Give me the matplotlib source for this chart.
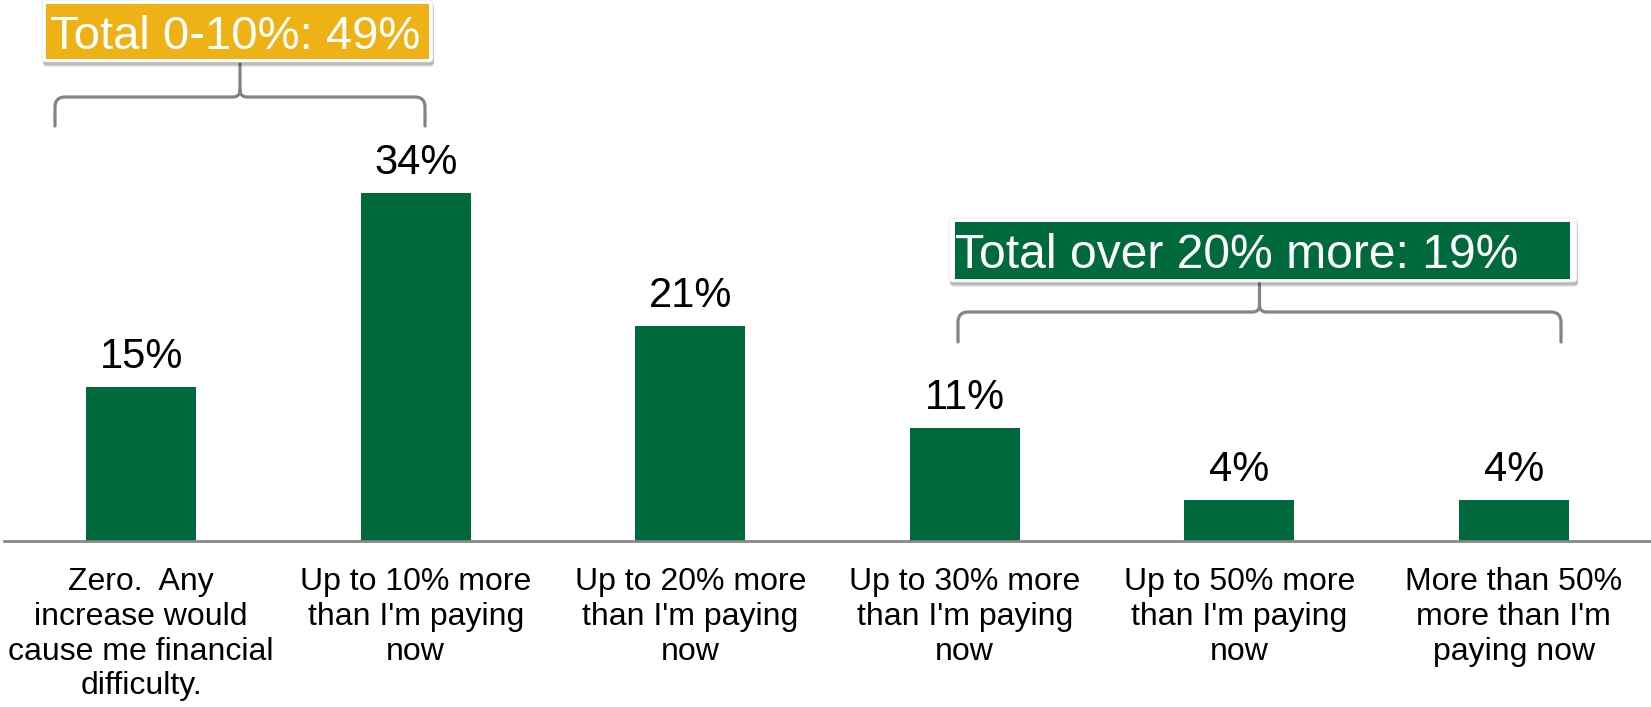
import matplotlib
matplotlib.use("Agg")
import matplotlib.pyplot as plt
from matplotlib.patches import Rectangle, FancyBboxPatch, PathPatch
from matplotlib.path import Path

# ---- data ----
categories = [
    "Zero.  Any\nincrease would\ncause me financial\ndifficulty.",
    "Up to 10% more\nthan I'm paying\nnow",
    "Up to 20% more\nthan I'm paying\nnow",
    "Up to 30% more\nthan I'm paying\nnow",
    "Up to 50% more\nthan I'm paying\nnow",
    "More than 50%\nmore than I'm\npaying now",
]
values = [15, 34, 21, 11, 4, 4]
value_labels = ["15%", "34%", "21%", "11%", "4%", "4%"]
group_labels = ["Total 0-10%: 49%", "Total over 20% more: 19%"]

# ---- style ----
GREEN = "#006A3D"
GOLD = "#EFB216"
BRACE = "#7E858C"
AXIS = "#878787"

W, H = 1651, 707
plt.rcParams["font.family"] = ["Liberation Sans", "DejaVu Sans"]

fig = plt.figure(figsize=(W / 100, H / 100), dpi=100)

# main bar axes: baseline 541 px from the top, 10.24 px per percent
base_px = 541
px_per_pct = 10.24
ax = fig.add_axes([4 / W, 1 - base_px / H, 1 - 4 / W, base_px / H])
x = list(range(len(values)))
ax.bar(x, values, width=0.4, color=GREEN, zorder=2)
ax.set_xlim(-0.5, len(values) - 0.5)
ax.set_ylim(0, base_px / px_per_pct)

for i, (v, lbl) in enumerate(zip(values, value_labels)):
    ax.annotate(lbl, (i, v), xytext=(0, 19), textcoords="offset pixels",
                ha="center", va="baseline", fontsize=30, color="black")

ax.set_xticks(x)
ax.set_xticklabels(categories, fontsize=23, linespacing=1.2)
ax.tick_params(axis="x", length=0, pad=19)
ax.set_yticks([])
for s in ["top", "left", "right"]:
    ax.spines[s].set_visible(False)
ax.spines["bottom"].set_color(AXIS)
ax.spines["bottom"].set_linewidth(2)
ax.patch.set_alpha(0)

# overlay in pixel units for the group call-outs
ov = fig.add_axes([0, 0, 1, 1], zorder=5)
ov.set_xlim(0, W)
ov.set_ylim(H, 0)
ov.axis("off")
ov.patch.set_alpha(0)


def brace(x0, x1, y_end, y_h, y_tip, r=10, r2=7):
    xm = (x0 + x1) / 2
    verts = [
        (x0, y_end), (x0, y_h + r), (x0, y_h), (x0 + r, y_h),
        (xm - r2, y_h), (xm, y_h), (xm, y_h - r2), (xm, y_tip),
        (xm, y_h - r2), (xm, y_h), (xm + r2, y_h),
        (x1 - r, y_h), (x1, y_h), (x1, y_h + r), (x1, y_end),
    ]
    codes = [
        Path.MOVETO, Path.LINETO, Path.CURVE3, Path.CURVE3,
        Path.LINETO, Path.CURVE3, Path.CURVE3, Path.LINETO,
        Path.MOVETO, Path.CURVE3, Path.CURVE3,
        Path.LINETO, Path.CURVE3, Path.CURVE3, Path.LINETO,
    ]
    ov.add_patch(PathPatch(Path(verts, codes), fill=False, edgecolor=BRACE,
                           lw=2.3, capstyle="round", joinstyle="round"))


def callout(text, x0, y0, x1, y1, fill, fx0, fx1, tx, ty, size):
    # soft drop shadow
    for k, a in enumerate([0.08, 0.10, 0.13]):
        off = 5 - k
        ov.add_patch(FancyBboxPatch((x0 + 1, y0 + off), x1 - x0, y1 - y0,
                                    boxstyle="round,pad=0,rounding_size=4",
                                    facecolor="black", edgecolor="none",
                                    alpha=a))
    ov.add_patch(FancyBboxPatch((x0, y0), x1 - x0, y1 - y0,
                                boxstyle="round,pad=0,rounding_size=4",
                                facecolor="white", edgecolor="#E6E6E6", lw=0.6))
    ov.add_patch(Rectangle((fx0, y0 + 4), fx1 - fx0, y1 - y0 - 7,
                           facecolor=fill, edgecolor="none"))
    ov.text(tx, ty, text, color="white", fontsize=size, ha="left",
            va="baseline")


brace(55, 425, 126, 97, 64)
callout(group_labels[0], 42, 0, 433, 62, GOLD, 46, 429, 50, 49, 34)

brace(958, 1561, 342, 312, 282)
callout(group_labels[1], 949, 218, 1577, 282, GREEN, 955, 1570, 955, 268,
        34.6)

fig.savefig("out.png", dpi=100)
